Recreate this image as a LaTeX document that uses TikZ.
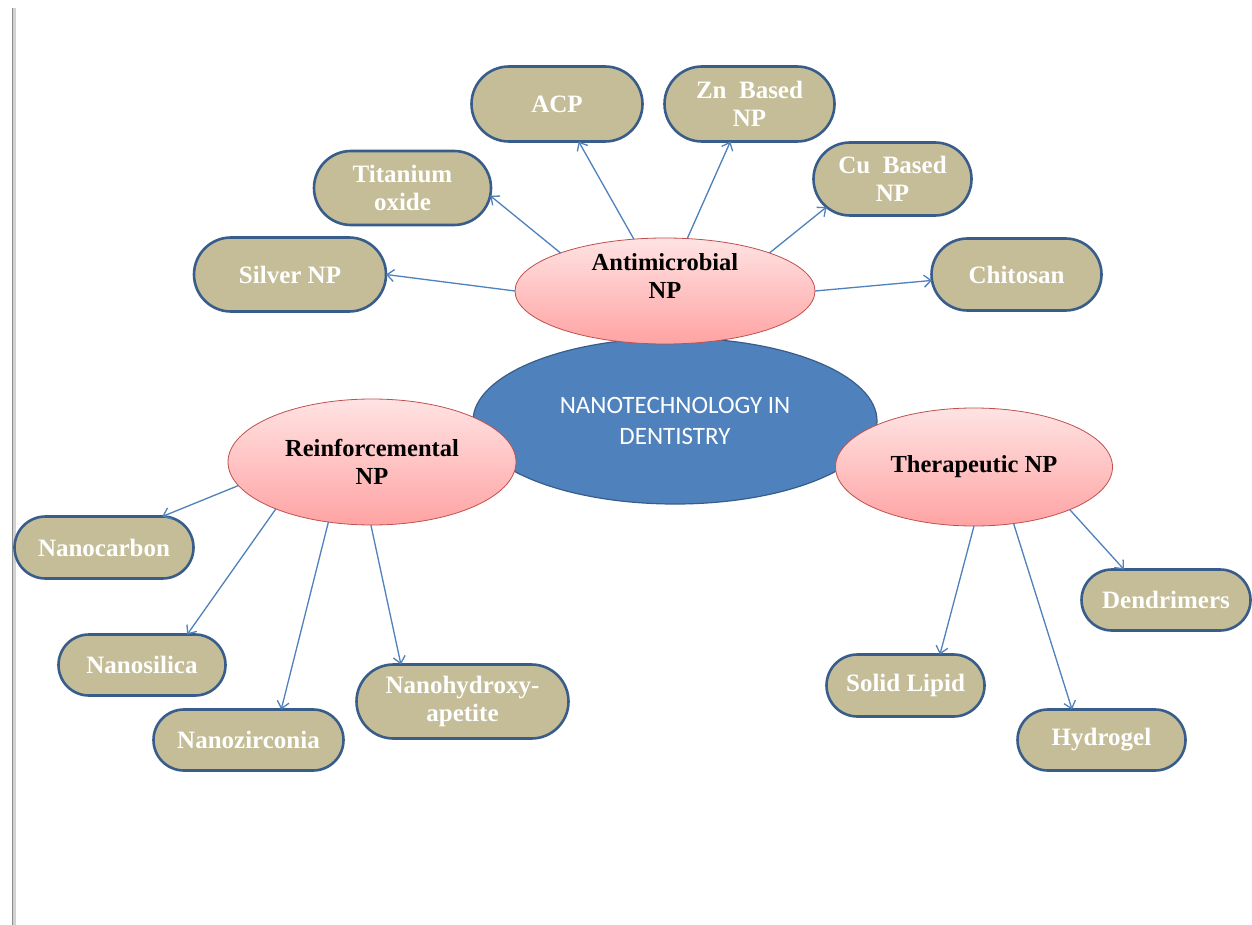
\documentclass[tikz,border=0pt]{standalone}
\usepackage{fontspec}
\setmainfont{Liberation Serif}
\newfontfamily\hubfont{Carlito}
\usetikzlibrary{shapes.geometric,shapes.misc,arrows.meta}
\definecolor{tanfill}{HTML}{C4BD97}
\definecolor{navyline}{HTML}{385D8A}
\definecolor{accentblue}{HTML}{4F81BD}
\definecolor{pinkT}{HTML}{FFE3E3}
\definecolor{pinkB}{HTML}{FFA3A3}
\definecolor{pinkE}{HTML}{C0504D}
\begin{document}
\begin{tikzpicture}[x=1pt,y=-1pt,
  box/.style={rounded rectangle, draw=navyline, line width=2.6pt, fill=tanfill,
    text=white, font=\fontsize{25}{28}\selectfont\bfseries, align=center,
    inner sep=0pt, outer sep=0pt},
  cat/.style={ellipse, draw=pinkE, line width=0.8pt, top color=pinkT, bottom color=pinkB,
    text=black, font=\fontsize{24.5}{28}\selectfont\bfseries, align=center,
    inner sep=0pt, outer sep=0pt},
  cattext/.style={text=black, font=\fontsize{24.5}{28}\selectfont\bfseries, align=center, inner sep=0pt},
  hub/.style={ellipse, draw=navyline, line width=1.2pt, fill=accentblue, text=white,
    font=\hubfont\fontsize{25}{31}\selectfont, align=center, inner sep=0pt, outer sep=0pt},
  arr/.style={draw=accentblue, line width=1.3pt, -{Straight Barb[length=7pt,width=12pt]}}
]
\useasboundingbox (0,0) rectangle (1252,925);
\fill[white] (0,0) rectangle (1252,925);
% left page edge
\draw[gray!35, line width=3pt] (14,8) -- (14,925);
\draw[gray!90, line width=1.5pt] (12.5,8) -- (12.5,925);

% hub
\node[hub, minimum width=404pt, minimum height=166pt] (hub) at (675,421) {NANOTECHNOLOGY IN\\DENTISTRY};

% categories
\node[cat, minimum width=300pt, minimum height=106pt] (am) at (665,291) {};
\node[cattext] (amtext) at (665,276) {Antimicrobial\\NP};
\node[cat, minimum width=288pt, minimum height=126pt] (rf) at (372,462) {Reinforcemental\\NP};
\node[cat, minimum width=277pt, minimum height=118pt] (th) at (974,467) {Therapeutic NP};

% antimicrobial boxes
\node[box, minimum width=192pt, minimum height=74pt] (silver) at (290,274.5) {Silver NP};
\node[box, minimum width=177pt, minimum height=74pt] (titanium) at (402.5,188) {Titanium\\oxide};
\node[box, minimum width=171pt, minimum height=75pt] (acp) at (557,104) {ACP};
\node[box, minimum width=170pt, minimum height=75pt] (zn) at (749.5,104) {Zn~~Based\\NP};
\node[box, minimum width=158pt, minimum height=73pt] (cu) at (892.5,179) {Cu~~Based\\NP};
\node[box, minimum width=170pt, minimum height=72pt] (chitosan) at (1016.5,274.5) {Chitosan};

% reinforcemental boxes
\node[box, minimum width=179pt, minimum height=62pt] (nanocarbon) at (104,547.5) {Nanocarbon};
\node[box, minimum width=167pt, minimum height=61pt] (nanosilica) at (142,665) {Nanosilica};
\node[box, minimum width=190pt, minimum height=61pt] (nanozirconia) at (248.5,740) {Nanozirconia};
\node[box, minimum width=212pt, minimum height=74pt] (nanohydroxy) at (462.5,701.5) {Nanohydroxy-\\apetite};

% therapeutic boxes
\node[box, minimum width=158pt, minimum height=62pt] (solid) at (905.5,685.5) {Solid Lipid};
\node[box, minimum width=168pt, minimum height=61pt] (hydrogel) at (1101.5,740) {Hydrogel};
\node[box, minimum width=169pt, minimum height=61pt] (dendrimers) at (1166,600) {Dendrimers};

% connectors
\draw[arr] (am.180) -- (silver.east);
\draw[arr] (am.160) -- (titanium.355);
\draw[arr] (am.121) -- (acp.300);
\draw[arr] (am.67) -- (zn.243);
\draw[arr] (am.20) -- (cu.203);
\draw[arr] (am.0) -- (chitosan.184);

\draw[arr] (rf.190) -- (nanocarbon.28);
\draw[arr] (rf.206) -- (nanosilica.34);
\draw[arr] (rf.234) -- (nanozirconia.43);
\draw[arr] (rf.269) -- (nanohydroxy.149);

\draw[arr] (th.270) -- (solid.42);
\draw[arr] (th.305) -- (hydrogel.134);
\draw[arr] (th.336) -- (dendrimers.144);
\end{tikzpicture}
\end{document}
